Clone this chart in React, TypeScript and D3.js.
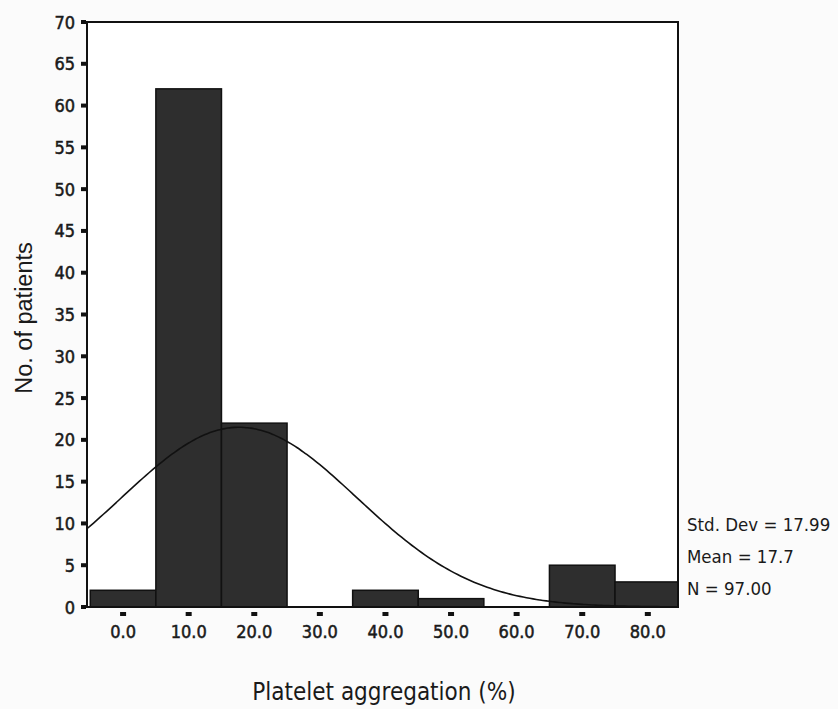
import React from "react";
import * as d3 from "d3";

const binCenters = [0, 10, 20, 30, 40, 50, 60, 70, 80];
const counts = [2, 62, 22, 0, 2, 1, 0, 5, 3];
const yTicks = [0, 5, 10, 15, 20, 25, 30, 35, 40, 45, 50, 55, 60, 65, 70];
const xTicks = [0, 10, 20, 30, 40, 50, 60, 70, 80];
const statLines = ["Std. Dev = 17.99", "Mean = 17.7", "N = 97.00"];
const mean = 17.7;
const sd = 17.99;
const n = 97;
const binWidth = 10;

export default function App() {
  const W = 838, H = 709;
  const left = 87, right = 678, top = 22, bottom = 607;
  const xMin = -5.5, xMax = 84.6;
  const x = d3.scaleLinear().domain([xMin, xMax]).range([left, right]);
  const y = d3.scaleLinear().domain([0, 70]).range([bottom, top]);
  const font = "'DejaVu Sans Condensed', 'DejaVu Sans', Verdana, sans-serif";

  const curvePts: [number, number][] = d3.range(xMin, xMax + 0.01, 0.5).map((v) => [
    v,
    (n * binWidth) / (sd * Math.sqrt(2 * Math.PI)) * Math.exp(-0.5 * ((v - mean) / sd) ** 2),
  ]);
  const line = d3.line<[number, number]>().x((d) => x(d[0])).y((d) => y(d[1])).curve(d3.curveBasis);

  return (
    <svg width={W} height={H} style={{ position: "absolute", left: 0, top: 0, background: "#fbfbfb" }}>
      <rect x={0} y={0} width={W} height={H} fill="#fbfbfb" />
      <rect x={left} y={top} width={right - left} height={bottom - top} fill="#fff" />
      {binCenters.map((c, i) =>
        counts[i] > 0 ? (
          <rect
            key={i}
            x={x(Math.max(c - 5, xMin))}
            y={y(counts[i])}
            width={x(Math.min(c + 5, xMax)) - x(Math.max(c - 5, xMin))}
            height={y(0) - y(counts[i])}
            fill="#2e2e2e"
            stroke="#111"
            strokeWidth={1.5}
          />
        ) : null
      )}
      <path d={line(curvePts) || ""} fill="none" stroke="#111" strokeWidth={1.6} />
      <rect x={left} y={top} width={right - left} height={bottom - top} fill="none" stroke="#111" strokeWidth={2} />
      {yTicks.map((t) => (
        <g key={t}>
          <rect x={left - 6} y={y(t) - 2} width={5} height={4} fill="#111" />
          <text x={left - 12} y={y(t) + 6.5} textAnchor="end" fontFamily={font} fontSize={18}
            fill="#1a1a1a" stroke="#1a1a1a" strokeWidth={0.5}>
            {t}
          </text>
        </g>
      ))}
      {xTicks.map((t) => (
        <g key={t}>
          <rect x={x(t) - 3} y={bottom + 5} width={6} height={4} fill="#111" />
          <text x={x(t)} y={bottom + 31} textAnchor="middle" fontFamily={font} fontSize={18}
            fill="#1a1a1a" stroke="#1a1a1a" strokeWidth={0.5}>
            {t.toFixed(1)}
          </text>
        </g>
      ))}
      <text
        transform={`translate(32, 318) rotate(-90)`}
        textAnchor="middle"
        fontFamily="'Liberation Sans', Arial, sans-serif"
        fontSize={23.5}
        fill="#1a1a1a"
      >
        No. of patients
      </text>
      <text x={384} y={700} textAnchor="middle" fontFamily={font} fontSize={24} fill="#1a1a1a">
        Platelet aggregation (%)
      </text>
      {statLines.map((s, i) => (
        <text key={s} x={687} y={531 + i * 32} fontFamily={font} fontSize={18.5} fill="#1a1a1a">
          {s}
        </text>
      ))}
    </svg>
  );
}
